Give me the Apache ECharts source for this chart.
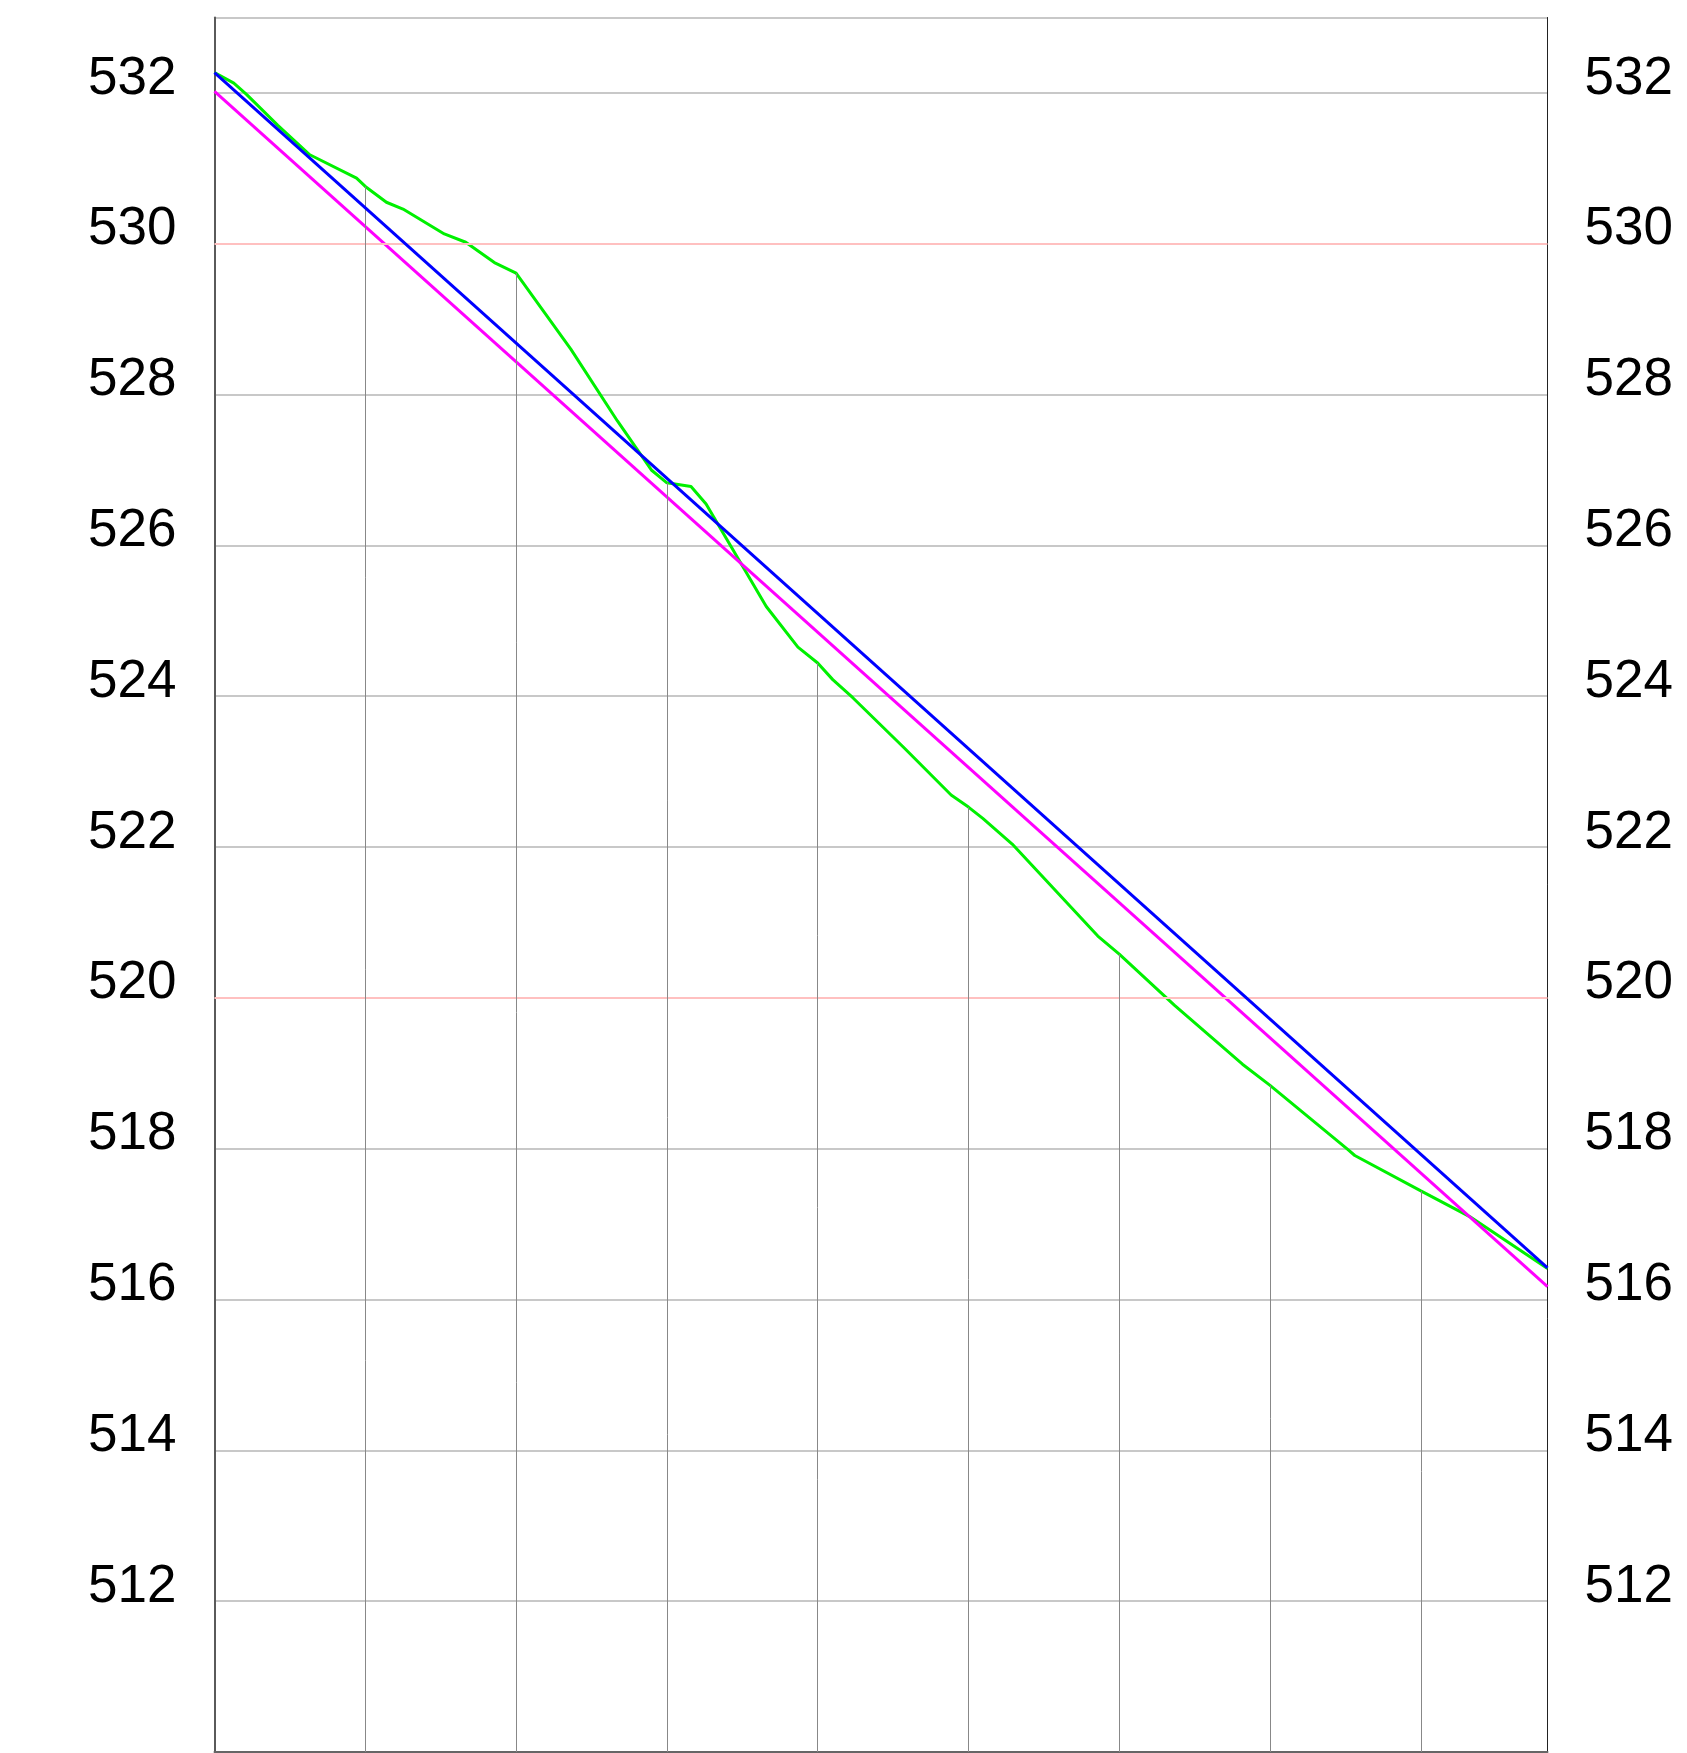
<!DOCTYPE html>
<html>
<head>
<meta charset="utf-8">
<style>
  html, body { margin: 0; padding: 0; background: #ffffff; }
  #chart { width: 1687px; height: 1753px; }
</style>
<script src="https://cdn.jsdelivr.net/npm/echarts@6/dist/echarts.min.js"></script>
</head>
<body>
<div id="chart"></div>
<script>
// ---- data ----
const yTickLabels = [512, 514, 516, 518, 520, 522, 524, 526, 528, 530, 532];
const majorLevels = [520, 530];

// measured profile (x in grid-column units, y = elevation)
const profileX = [0, 0.128, 0.212, 0.42, 0.632, 0.942, 1.0, 1.14, 1.25, 1.524, 1.666, 1.856, 2.0,
  2.364, 2.672, 2.897, 3.0, 3.16, 3.26, 3.659, 3.869, 4.0, 4.1, 4.233, 4.576, 4.885, 5.0,
  5.095, 5.29, 5.858, 6.0, 6.367, 6.817, 7.0, 7.515, 7.562, 8.0, 8.324, 8.84];
const profileY = [532.27, 532.13, 531.98, 531.57, 531.18, 530.87, 530.76, 530.55, 530.46, 530.13, 530.02, 529.75, 529.61,
  528.60, 527.65, 527.00, 526.83, 526.78, 526.55, 525.19, 524.65, 524.44, 524.22, 523.98, 523.31, 522.69, 522.53,
  522.38, 522.04, 520.82, 520.58, 519.90, 519.12, 518.84, 517.99, 517.91, 517.44, 517.10, 516.41];

// straight lines (two end points each)
const blueX = [0, 8.84];
const blueY = [532.27, 516.42];
const magentaX = [0, 8.84];
const magentaY = [532.02, 516.17];

// vertical station lines: x position and top (on the profile)
const stationX = [1, 2, 3, 4, 5, 6, 7, 8];
const stationTop = [530.76, 529.61, 526.83, 524.44, 522.53, 520.58, 518.84, 517.44];

const Y_MIN = 510, Y_MAX = 533, X_MIN = 0, X_MAX = 8.84;

const zip = (xs, ys) => xs.map((x, i) => [x, ys[i]]);

const labelStyle = {
  fontFamily: '"Liberation Sans", Arial, sans-serif',
  fontSize: 53,
  color: '#000',
  verticalAlign: 'bottom',
  lineHeight: 28,
  formatter: v => (yTickLabels.indexOf(v) >= 0 ? String(v) : '')
};

const chart = echarts.init(document.getElementById('chart'), null, { renderer: 'canvas' });
chart.setOption({
  animation: false,
  backgroundColor: '#ffffff',
  grid: {
    left: 214.5, top: 17.5, width: 1333, height: 1734.5,
    show: true, borderColor: '#777', borderWidth: 1, backgroundColor: 'transparent'
  },
  xAxis: {
    type: 'value', min: X_MIN, max: X_MAX, interval: 1,
    axisLine: { show: true, onZero: false, lineStyle: { color: '#666', width: 2 } },
    axisTick: { show: false }, axisLabel: { show: false }, splitLine: { show: false }
  },
  yAxis: [
    {
      type: 'value', min: Y_MIN, max: Y_MAX, interval: 2, position: 'left',
      axisLine: { show: true, lineStyle: { color: '#5a5a5a', width: 2 } },
      axisTick: { show: false },
      axisLabel: Object.assign({ margin: 38, align: 'right' }, labelStyle),
      splitLine: { show: true, lineStyle: { color: '#c8c8c8', width: 2 } }
    },
    {
      type: 'value', min: Y_MIN, max: Y_MAX, interval: 2, position: 'right',
      axisLine: { show: true, lineStyle: { color: '#222', width: 1 } },
      axisTick: { show: false },
      axisLabel: Object.assign({ margin: 37, align: 'left' }, labelStyle),
      splitLine: { show: false }
    }
  ],
  series: [
    {
      name: 'profile', type: 'line', data: zip(profileX, profileY),
      showSymbol: false, symbol: 'none',
      lineStyle: { color: '#00f000', width: 3 },
      z: 3,
      markLine: {
        silent: true, symbol: 'none', animation: false,
        label: { show: false },
        emphasis: { disabled: true },
        data: majorLevels.map(v => ({ yAxis: v, lineStyle: { color: '#ffc0c0', width: 2, type: 'solid' } }))
          .concat(stationX.map((x, i) => [
            { coord: [x, Y_MIN], lineStyle: { color: '#888888', width: 1, type: 'solid' } },
            { coord: [x, stationTop[i]] }
          ]))
      }
    },
    {
      name: 'magenta', type: 'line', data: zip(magentaX, magentaY),
      showSymbol: false, symbol: 'none',
      lineStyle: { color: '#ff00ff', width: 3 }, z: 4
    },
    {
      name: 'blue', type: 'line', data: zip(blueX, blueY),
      showSymbol: false, symbol: 'none',
      lineStyle: { color: '#0000ff', width: 3 }, z: 5
    }
  ]
});
</script>
</body>
</html>
